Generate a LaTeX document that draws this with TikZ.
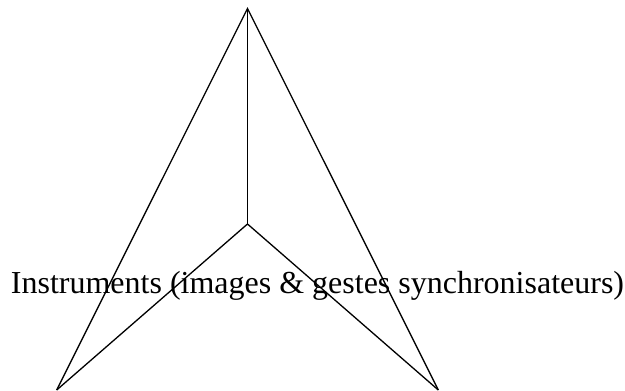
\documentclass[tikz,border=0pt]{standalone}
\usepackage{fontspec}
\setmainfont{Liberation Serif}
\begin{document}
\begin{tikzpicture}[x=1pt,y=1pt,edge/.style={line width=1.3pt,line join=miter}]
\useasboundingbox (0,0) rectangle (625,391);
\coordinate (top) at (247.5,382.5);
\coordinate (mid) at (247.5,167);
\coordinate (bl) at (56.7,1);
\coordinate (br) at (438.3,1);
\draw[edge] (bl) -- (top) -- (br);
\draw[edge] (top) -- (mid);
\draw[edge] (bl) -- (mid) -- (br);
\node[inner sep=0pt,anchor=base] (lbl) at (317.5,97) {\fontsize{32}{38}\selectfont Instruments (images \& gestes synchronisateurs)};
\end{tikzpicture}
\end{document}
